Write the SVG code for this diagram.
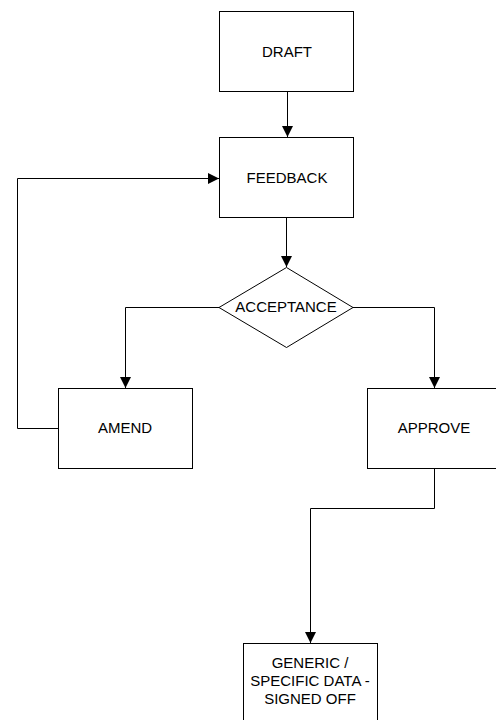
<svg xmlns="http://www.w3.org/2000/svg" width="496" height="720" viewBox="0 0 496 720">
  <style>
    .box { fill: #ffffff; stroke: #000000; stroke-width: 1; }
    .lbl { font-family: "Liberation Sans", Arial, sans-serif; font-size: 15px; fill: #000000; text-anchor: middle; }
    .wire { fill: none; stroke: #000000; stroke-width: 1; }
  </style>
  <defs>
    <marker id="arrow" markerUnits="userSpaceOnUse" markerWidth="11" markerHeight="11" viewBox="0 0 10 10" refX="10" refY="5" orient="auto">
      <path d="M0,0 L10,5 L0,10 Z" fill="#000000"/>
    </marker>
  </defs>
  <rect width="496" height="720" fill="#ffffff"/>

  <g id="connectors">
    <path class="wire" d="M287.5,92 V137" marker-end="url(#arrow)"/>
    <path class="wire" d="M286.5,218 V267" marker-end="url(#arrow)"/>
    <path class="wire" d="M219,307.5 H125.5 V388" marker-end="url(#arrow)"/>
    <path class="wire" d="M353,307.5 H434.5 V388" marker-end="url(#arrow)"/>
    <path class="wire" d="M58,428.5 H17.5 V178.5 H219" marker-end="url(#arrow)"/>
    <path class="wire" d="M434.5,468 V508.5 H310.5 V643" marker-end="url(#arrow)"/>
  </g>

  <g id="draft">
    <rect class="box" x="219.5" y="11.5" width="134" height="80"/>
    <text class="lbl" x="287" y="57">DRAFT</text>
  </g>
  <g id="feedback">
    <rect class="box" x="219.5" y="137.5" width="134" height="80"/>
    <text class="lbl" x="287" y="183">FEEDBACK</text>
  </g>
  <g id="acceptance">
    <polygon class="box" points="286.5,267.5 353,307.5 286.5,347.5 219,307.5"/>
    <text class="lbl" x="286" y="312">ACCEPTANCE</text>
  </g>
  <g id="amend">
    <rect class="box" x="58.5" y="388.5" width="134" height="80"/>
    <text class="lbl" x="125" y="433">AMEND</text>
  </g>
  <g id="approve">
    <rect class="box" x="367.5" y="388.5" width="134" height="80"/>
    <text class="lbl" x="434" y="433">APPROVE</text>
  </g>
  <g id="signed-off">
    <rect class="box" x="243.5" y="643.5" width="134" height="80"/>
    <text class="lbl" x="310" y="668">GENERIC /</text>
    <text class="lbl" x="310" y="686">SPECIFIC DATA -</text>
    <text class="lbl" x="310" y="704">SIGNED OFF</text>
  </g>
</svg>
